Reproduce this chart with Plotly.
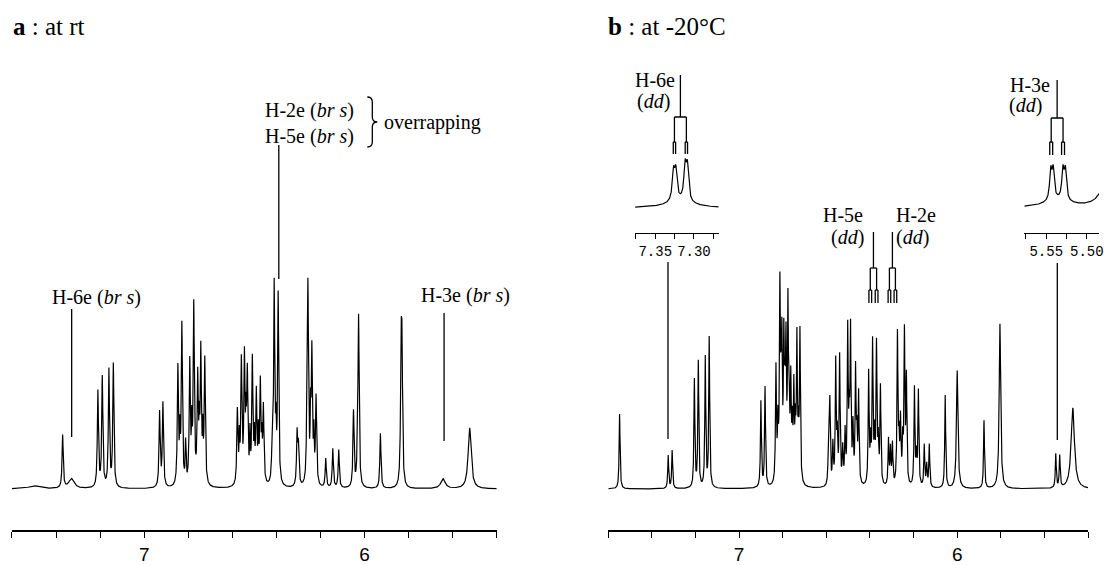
import numpy as np
import plotly.graph_objects as go

# ---- data: 1H NMR peak lists (ppm, relative height, half width) ----
# a : at rt
a_pos = [7.50, 7.37, 7.33, 7.21, 7.19, 7.16, 7.14, 6.93, 6.915,
         6.847, 6.838, 6.829, 6.812, 6.793, 6.784, 6.775, 6.757, 6.750, 6.743, 6.734, 6.725,
         6.577, 6.568, 6.559, 6.545, 6.538, 6.532, 6.520, 6.509, 6.500, 6.491, 6.482, 6.473, 6.466, 6.459,
         6.420, 6.410, 6.402, 6.392,
         6.306, 6.300, 6.262, 6.257, 6.245, 6.239, 6.230, 6.220,
         6.176, 6.144, 6.117, 6.050, 6.032, 6.027, 5.928, 5.834, 5.830, 5.644, 5.523]
a_hgt = [3, 53, 10, 96, 110, 117, 123, 75, 84,
         118, 45, 160, 40, 122, 50, 178, 105, 45, 132, 45, 125,
         74, 40, 122, 125, 50, 108, 45, 124, 40, 90, 45, 100, 35, 76,
         25, 200, 45, 190,
         52, 38, 45, 198, 60, 132, 45, 88,
         29, 39, 38, 76, 40, 168, 55, 125, 120, 10, 61]
a_hw = [0.03, 0.003, 0.015, 0.003, 0.003, 0.003, 0.003, 0.003, 0.003,
        0.003, 0.002, 0.003, 0.002, 0.003, 0.002, 0.003, 0.003, 0.002, 0.003, 0.002, 0.003,
        0.003, 0.002, 0.003, 0.003, 0.002, 0.003, 0.002, 0.003, 0.002, 0.003, 0.002, 0.003, 0.002, 0.003,
        0.003, 0.003, 0.002, 0.003,
        0.003, 0.003, 0.002, 0.003, 0.002, 0.003, 0.002, 0.003,
        0.003, 0.003, 0.003, 0.003, 0.002, 0.003, 0.003, 0.003, 0.003, 0.012, 0.008]

# b : at -20 C
b_pos = [7.548, 7.325, 7.307, 7.205, 7.187, 7.155, 7.137, 6.900, 6.881,
         6.831, 6.822, 6.813, 6.808, 6.804, 6.795, 6.790, 6.785, 6.776, 6.770, 6.763, 6.756,
         6.749, 6.742, 6.735, 6.728, 6.721,
         6.590, 6.584, 6.570, 6.557, 6.550, 6.539, 6.525, 6.514, 6.502, 6.495, 6.489, 6.478,
         6.466, 6.460, 6.452,
         6.406, 6.397, 6.388, 6.379, 6.370, 6.362, 6.352,
         6.315, 6.306, 6.297,
         6.274, 6.267, 6.260, 6.250, 6.242, 6.233,
         6.196, 6.187, 6.178, 6.151, 6.140, 6.128,
         6.055, 6.000, 5.877, 5.804, 5.548, 5.530, 5.470]
b_hgt = [75, 33, 38, 108, 126, 130, 150, 86, 100,
         115, 55, 185, 55, 125, 130, 65, 125, 170, 60, 95, 50,
         90, 50, 140, 45, 150,
         40, 84, 40, 122, 45, 128, 35, 50, 152, 55, 150, 55,
         112, 45, 90,
         112, 40, 140, 45, 138, 40, 98,
         46, 36, 41,
         150, 40, 62, 40, 150, 105,
         98, 28, 95, 42, 22, 43,
         93, 118, 68, 165, 34, 32, 81]
b_hw = [0.0025] * len(b_pos)
b_hw[b_pos.index(6.000)] = 0.004
b_hw[b_pos.index(5.804)] = 0.004
b_hw[b_pos.index(5.470)] = 0.009

# expanded insets of panel b
i1_pos = [7.3265, 7.3235, 7.3115, 7.3085, 7.318]
i1_hgt = [28, 28, 33, 33, 7]
i1_hw = [0.0018, 0.0018, 0.0018, 0.0018, 0.02]
i2_pos = [5.5445, 5.5415, 5.5295, 5.5265, 5.536, 5.472]
i2_hgt = [29, 29, 29, 29, 7, 60]
i2_hw = [0.0016, 0.0016, 0.0016, 0.0016, 0.02, 0.007]

main_ticks = [7.6, 7.4, 7.2, 7.0, 6.8, 6.6, 6.4, 6.2, 6.0, 5.8, 5.6, 5.4]
main_text = ['', '', '', '7', '', '', '', '', '6', '', '', '']
i1_ticks = [7.375, 7.35, 7.325, 7.30, 7.275]
i1_text = ['', '7.35', '', '7.30', '']
i2_ticks = [5.575, 5.55, 5.525, 5.50]
i2_text = ['', '5.55', '', '5.50']

W, H = 1104, 565


def px(x):
    return x / W


def py(y):
    return 1 - y / H


def spectrum(grid, pos, hgt, hw):
    y = np.zeros_like(grid)
    for p, h, w in zip(pos, hgt, hw):
        y += h / (1 + ((grid - p) / w) ** 2)
    return y


fig = go.Figure()
grid = np.linspace(7.6, 5.4, 4401)
for pos, hgt, hw, ax in [(a_pos, a_hgt, a_hw, ''), (b_pos, b_hgt, b_hw, '2')]:
    fig.add_trace(go.Scatter(x=grid, y=spectrum(grid, pos, hgt, hw), mode='lines',
                             line=dict(color='black', width=1.2), hoverinfo='skip',
                             xaxis='x' + ax, yaxis='y' + ax))
g1 = np.linspace(7.376, 7.268, 800)
fig.add_trace(go.Scatter(x=g1, y=spectrum(g1, i1_pos, i1_hgt, i1_hw), mode='lines',
                         line=dict(color='black', width=1.2), hoverinfo='skip', xaxis='x3', yaxis='y3'))
g2 = np.linspace(5.577, 5.485, 800)
fig.add_trace(go.Scatter(x=g2, y=spectrum(g2, i2_pos, i2_hgt, i2_hw), mode='lines',
                         line=dict(color='black', width=1.2), hoverinfo='skip', xaxis='x4', yaxis='y4'))

main_x = dict(range=[7.6, 5.4], showline=True, linecolor='black', linewidth=1.5, ticks='outside',
              ticklen=6, tickwidth=1.3, tickcolor='black', tickvals=main_ticks, ticktext=main_text,
              showgrid=False, zeroline=False, tickfont=dict(family='Liberation Sans', size=19, color='black'))
main_y = dict(range=[-41, 434], visible=False, domain=[py(530), py(55)])
ins_x = dict(showline=True, linecolor='black', linewidth=1.3, ticks='outside', ticklen=5, tickwidth=1.2,
             tickcolor='black', showgrid=False, zeroline=False, ticklabeloverflow='allow',
             tickfont=dict(family='Liberation Mono', size=14, color='black'))
ins_y = dict(range=[-25, 68], visible=False, domain=[py(233), py(140)])

shapes = []


def seg(xref, x0, y0, x1, y1):
    shapes.append(dict(type='line', xref=xref, yref='paper', x0=x0, y0=py(y0), x1=x1, y1=py(y1),
                       line=dict(color='black', width=1.3)))


def tree(xref, c, j1, j2, ytop, y1, y2, y3):
    seg(xref, c, ytop, c, y1)
    seg(xref, c - j1 / 2, y1, c + j1 / 2, y1)
    for s in (-1, 1):
        cc = c + s * j1 / 2
        seg(xref, cc, y1, cc, y2)
        seg(xref, cc - j2 / 2, y2, cc + j2 / 2, y2)
        for t in (-1, 1):
            seg(xref, cc + t * j2 / 2, y2, cc + t * j2 / 2, y3)


# panel a pointers
seg('x', 7.329, 309, 7.329, 437)
seg('x', 6.389, 145, 6.389, 279)
seg('x', 5.639, 313, 5.639, 441)
# panel b pointers and coupling trees
seg('x2', 7.326, 262, 7.326, 439)
seg('x2', 5.541, 263, 5.541, 440)
tree('x2', 6.384, 0.029, 0.0125, 232, 268, 290, 303)
tree('x2', 6.297, 0.0275, 0.012, 232, 268, 290, 303)
tree('x3', 7.3175, 0.0154, 0.003, 75, 117, 142, 154)
tree('x4', 5.5366, 0.0146, 0.0036, 80, 118, 142, 155)

# brace for "overrapping"
pts = [(369, 97), (374, 97), (374, 102), (374, 117), (374, 122), (379, 122), (374, 122), (374, 127),
       (374, 142), (374, 147), (369, 147)]
pp = ['%.5f,%.5f' % (px(x), py(y)) for x, y in pts]
path = 'M %s Q %s %s L %s Q %s %s Q %s %s L %s Q %s %s' % tuple(pp)
shapes.append(dict(type='path', xref='paper', yref='paper', path=path, line=dict(color='black', width=1.3)))

serif = dict(family='Liberation Serif', size=20, color='black')
ann = []


def txt(text, x, y, anchor='center', size=20):
    ann.append(dict(text=text, x=px(x), y=py(y), xref='paper', yref='paper', xanchor=anchor,
                    yanchor='middle', showarrow=False, borderpad=0, font=dict(serif, size=size)))


txt('<b>a</b> : at rt', 12, 27, 'left', 25)
txt('<b>b</b> : at -20°C', 610, 27, 'left', 25)
txt('H-2e (<i>br s</i>)<br>H-5e (<i>br s</i>)', 311, 124)
txt('overrapping', 385, 122, 'left')
txt('H-6e (<i>br s</i>)', 97, 297)
txt('H-3e (<i>br s</i>)', 468, 295)
txt('H-6e', 679, 80, 'right')
txt('(<i>dd</i>)', 674, 101, 'right')
txt('H-3e', 1056, 85, 'right')
txt('(<i>dd</i>)', 1048, 105, 'right')
txt('H-5e', 868, 215, 'right')
txt('(<i>dd</i>)', 869, 237, 'right')
txt('H-2e', 899, 215, 'left')
txt('(<i>dd</i>)', 899, 237, 'left')

fig.update_layout(
    width=W, height=H, margin=dict(l=0, r=0, t=0, b=0),
    paper_bgcolor='white', plot_bgcolor='white', showlegend=False,
    xaxis=dict(main_x, domain=[px(12), px(499)], anchor='y'),
    yaxis=dict(main_y, anchor='x'),
    xaxis2=dict(main_x, domain=[px(611), px(1093)], anchor='y2'),
    yaxis2=dict(main_y, anchor='x2'),
    xaxis3=dict(ins_x, range=[7.376, 7.268], domain=[px(638), px(722)], anchor='y3',
                tickvals=i1_ticks, ticktext=i1_text),
    yaxis3=dict(ins_y, anchor='x3'),
    xaxis4=dict(ins_x, range=[5.577, 5.485], domain=[px(1029), 1.0], anchor='y4',
                tickvals=i2_ticks, ticktext=i2_text),
    yaxis4=dict(ins_y, anchor='x4'),
    shapes=shapes, annotations=ann,
)

fig.write_html("out.html", config={'displayModeBar': False},
               post_script="document.body.style.margin='0px';")
